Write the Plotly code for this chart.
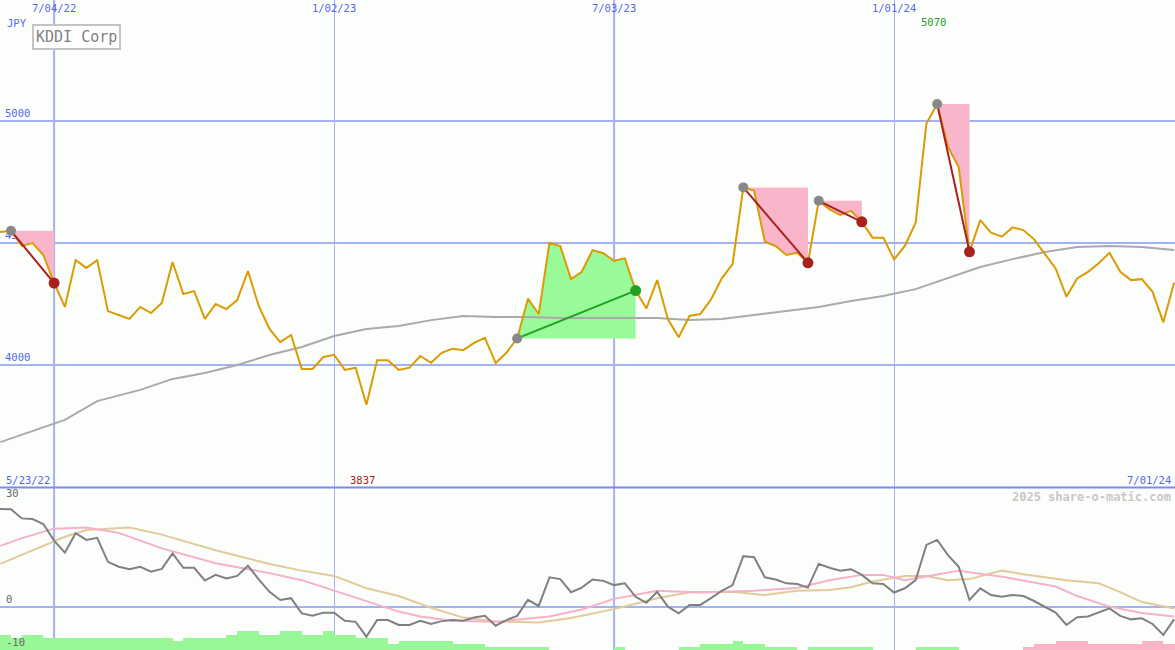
import pandas as pd
import plotly.graph_objects as go

# ---------------- data ----------------
week_dates = pd.date_range("2022-05-23", periods=111, freq="7D")

price = [
    4545,
    4545, 4550, 4488, 4500, 4451, 4336, 4238, 4430, 4398, 4430,
    4221, 4205, 4189, 4238, 4213, 4254, 4422, 4291, 4303, 4189,
    4250, 4229, 4266, 4385, 4242, 4148, 4094, 4123, 3984, 3984,
    4033, 4042, 3980, 3989, 3837, 4020, 4020, 3980, 3989, 4037,
    4009, 4050, 4067, 4061, 4091, 4111, 4008, 4050, 4109, 4272,
    4209, 4501, 4488, 4352, 4382, 4471, 4458, 4427, 4437, 4305,
    4232, 4348, 4187, 4114, 4201, 4209, 4269, 4355, 4414, 4728,
    4714, 4505, 4488, 4451, 4460, 4419, 4673, 4638, 4615, 4632,
    4587, 4522, 4522, 4433, 4488, 4583, 4990, 5070, 4895, 4810,
    4464, 4594, 4542, 4526, 4564, 4553, 4515, 4455, 4396, 4280,
    4355, 4382, 4417, 4460, 4382, 4348, 4352, 4300, 4175, 4337,
]

osc_gray = [
    27.8,
    27.8, 27.7, 25.1, 24.9, 23.5, 18.8, 15.4, 20.9, 19.0, 19.6,
    12.8, 11.4, 10.7, 11.4, 10.0, 10.8, 15.2, 11.1, 11.1, 7.5,
    9.1, 8.1, 8.8, 11.7, 7.8, 4.3, 2.0, 2.5, -1.8, -2.5,
    -1.6, -1.6, -3.9, -4.2, -8.4, -3.7, -3.7, -5.1, -5.1, -3.9,
    -4.8, -4.0, -3.7, -3.9, -3.0, -2.5, -5.3, -3.7, -2.5, 2.0,
    0.3, 8.4, 7.9, 4.2, 5.5, 7.8, 7.4, 6.2, 6.7, 2.9,
    1.2, 4.3, 0.1, -1.8, 0.6, 0.6, 2.5, 4.6, 6.2, 14.4,
    14.1, 8.4, 7.8, 6.7, 6.5, 5.5, 12.2, 11.1, 10.3, 10.7,
    9.1, 6.7, 6.5, 4.1, 5.3, 7.6, 17.6, 19.0, 14.7, 11.4,
    2.0, 5.3, 3.4, 2.9, 3.4, 3.1, 1.7, 0.1, -1.6, -5.1,
    -2.9, -2.7, -1.6, -0.4, -2.5, -3.5, -3.2, -4.8, -7.9, -3.5,
]

# histogram level per week (positive = green, negative = pink)
hist_level = [
    5,
    5, 4, 5, 5, 4, 4, 4, 4, 4, 4,
    4, 4, 4, 4, 4, 4, 3, 4, 4, 4,
    4, 5, 6, 6, 5, 5, 6, 6, 5, 5,
    6, 5, 5, 4, 4, 4, 2, 3, 3, 3,
    3, 3, 2, 2, 2, 1, 1, 1, 1, 1,
    1, 0, 0, 0, 0, 0, 0, 1, 0, 0,
    0, 0, 0, 1, 1, 2, 2, 2, 3, 2,
    2, 1, 1, 1, 0, 1, 1, 1, 1, 1,
    1, 0, 0, 0, 0, 1, 1, 1, 1, 0,
    0, 0, 0, 0, 0, -1, -2, -2, -3, -3,
    -3, -2, -2, -2, -2, -2, -3, -3, -2, -2,
]

# moving average (read at selected weeks; index into week_dates)
ma_week = [1, 7, 10, 14, 17, 20, 23, 26, 29, 32, 35, 38, 41, 44, 47, 50, 53, 56,
           59, 62, 65, 68, 71, 74, 77, 80, 83, 86, 89, 92, 95, 98, 101, 104, 107, 110]
ma_value = [3684, 3775, 3852, 3898, 3943, 3967, 4000, 4041, 4074, 4119, 4148, 4160,
            4184, 4201, 4197, 4197, 4193, 4193, 4193, 4193, 4184, 4189, 4205, 4221,
            4238, 4262, 4283, 4311, 4357, 4402, 4434, 4463, 4484, 4488, 4484, 4471]

pink_week = [1, 3, 6, 9, 12, 16, 21, 26, 29, 32, 35, 38, 40, 43, 47, 52, 55, 58, 62,
             66, 71, 75, 78, 81, 83, 85, 88, 90, 94, 99, 101, 104, 107, 110]
pink_value = [17.3, 19.5, 22.2, 22.5, 21.0, 16.6, 12.4, 9.6, 7.6, 4.6, 1.8, -1.3, -2.7,
              -3.9, -4.2, -2.7, -0.7, 2.3, 4.6, 4.1, 4.6, 5.4, 7.6, 9.1, 9.1, 7.6, 9.2,
              10.3, 8.6, 5.8, 3.1, 0.1, -1.7, -2.7]

tan_week = [1, 4, 7, 9, 13, 16, 21, 26, 29, 32, 35, 38, 41, 44, 47, 51, 54, 58, 62, 65,
            69, 72, 75, 78, 80, 82, 85, 87, 89, 91, 94, 96, 100, 103, 105, 107, 110]
tan_value = [12.2, 16.1, 19.9, 21.8, 22.5, 20.5, 16.1, 12.2, 10.3, 8.8, 5.3, 3.1, -0.2,
             -3.0, -4.1, -4.4, -3.1, -0.6, 2.5, 4.2, 4.3, 3.4, 4.6, 4.8, 5.6, 7.2, 8.8,
             8.8, 7.6, 7.9, 10.3, 9.3, 7.6, 6.7, 4.2, 1.4, -0.4]

sig_start = ["2022-06-06", "2023-05-01", "2023-09-25", "2023-11-13", "2024-01-29"]
sig_end = ["2022-07-04", "2023-07-17", "2023-11-06", "2023-12-11", "2024-02-19"]

x_tick_dates = ["2022-07-04", "2023-01-02", "2023-07-03", "2024-01-01"]
x_tick_text = ["7/04/22", "1/02/23", "7/03/23", "1/01/24"]
x_thick_dates = ["2022-07-04", "2023-07-03"]
y_ticks = [4000, 4500, 5000]

# ---------------- style ----------------
BG = "#fcfefb"
GRID = "#a4b2f0"
BLUE_TXT = "#5566ee"
FONT = "DejaVu Sans Mono"
PRICE_C = "#dc9a04"
MA_C = "#aaaaaa"
PINK_FILL = "#f9b6ca"
GREEN_FILL = "#98fa98"
RED_C = "#a82020"
GREEN_C = "#22a022"
GRAY_DOT = "#888888"

fig = go.Figure()

# histogram bars (bottom panel)
fig.add_trace(go.Bar(
    x=week_dates, y=[abs(v) for v in hist_level],
    marker=dict(color=["#98f898" if v > 0 else "#f9b4c8" for v in hist_level],
                line=dict(width=0)),
    width=7 * 86400000, offset=0, xaxis="x", yaxis="y2", hoverinfo="skip"))

# oscillator lines
fig.add_trace(go.Scatter(x=week_dates[tan_week], y=tan_value, mode="lines",
                         line=dict(color="#e2ca9a", width=2), xaxis="x", yaxis="y3"))
fig.add_trace(go.Scatter(x=week_dates[pink_week], y=pink_value, mode="lines",
                         line=dict(color="#f8b0c8", width=2), xaxis="x", yaxis="y3"))
fig.add_trace(go.Scatter(x=week_dates, y=osc_gray, mode="lines",
                         line=dict(color="#808080", width=2), xaxis="x", yaxis="y3"))

# signal shaded areas
s = pd.Series(price, index=week_dates)
for a, b in zip(sig_start, sig_end):
    seg = s[a:b]
    base = seg.iloc[0]
    up = seg.iloc[-1] > base
    xs = list(seg.index) + [seg.index[-1], seg.index[0]]
    ys = list(seg.values) + [base, base]
    fig.add_trace(go.Scatter(x=xs, y=ys, mode="lines", fill="toself",
                             fillcolor=GREEN_FILL if up else PINK_FILL,
                             line=dict(width=0), xaxis="x", yaxis="y"))

# moving average + price
fig.add_trace(go.Scatter(x=week_dates[ma_week], y=ma_value, mode="lines",
                         line=dict(color=MA_C, width=2), xaxis="x", yaxis="y"))
fig.add_trace(go.Scatter(x=week_dates, y=price, mode="lines",
                         line=dict(color=PRICE_C, width=2), xaxis="x", yaxis="y"))

# signal connectors and dots
for a, b in zip(sig_start, sig_end):
    seg = s[a:b]
    up = seg.iloc[-1] > seg.iloc[0]
    c = GREEN_C if up else RED_C
    fig.add_trace(go.Scatter(x=[seg.index[0], seg.index[-1]], y=[seg.iloc[0], seg.iloc[-1]],
                             mode="lines", line=dict(color=c, width=2), xaxis="x", yaxis="y"))
    fig.add_trace(go.Scatter(x=[seg.index[0]], y=[seg.iloc[0]], mode="markers",
                             marker=dict(color=GRAY_DOT, size=10), xaxis="x", yaxis="y"))
    fig.add_trace(go.Scatter(x=[seg.index[-1]], y=[seg.iloc[-1]], mode="markers",
                             marker=dict(color=c, size=11), xaxis="x", yaxis="y"))

tickfont = dict(family=FONT, size=10.5, color=BLUE_TXT)

fig.update_layout(
    width=1175, height=650,
    margin=dict(l=0, r=0, t=0, b=0),
    paper_bgcolor=BG, plot_bgcolor=BG,
    showlegend=False, bargap=0,
    xaxis=dict(type="date", range=["2022-05-29 20:00", "2024-07-01 14:00"],
               tickmode="array", tickvals=x_tick_dates, ticktext=x_tick_text,
               side="top", ticklabelposition="inside", ticks="", ticklabelstandoff=2,
               showgrid=True, gridcolor=GRID, gridwidth=1,
               zeroline=False, showline=False, tickfont=tickfont, anchor="y"),
    yaxis=dict(domain=[0.25, 1], range=[3498, 5496], tickmode="array", tickvals=y_ticks,
               ticklabelposition="inside top", ticks="", ticklabelstandoff=2,
               showgrid=True, gridcolor=GRID,
               gridwidth=2, zeroline=False, showline=False, layer="below traces",
               tickfont=tickfont, anchor="x"),
    yaxis2=dict(domain=[0, 0.25], range=[0, 50.8], showgrid=False, zeroline=False,
                showticklabels=False, ticks="", anchor="x"),
    yaxis3=dict(domain=[0, 0.25], range=[-12.18, 33.85], overlaying="y2", anchor="x",
                showgrid=False, zeroline=True, zerolinecolor=GRID, zerolinewidth=2,
                showticklabels=False, ticks=""),
)

# thicker mid-year grid lines
for d in x_thick_dates:
    fig.add_shape(type="line", xref="x", yref="paper", x0=d, x1=d, y0=0, y1=1,
                  line=dict(color=GRID, width=2), layer="below")
# panel separator
fig.add_shape(type="line", xref="paper", yref="paper", x0=0, x1=1, y0=0.25, y1=0.25,
              line=dict(color="#7a8af0", width=2), layer="above")

ann = []
ann.append(dict(text="JPY", x=5 / 1175, y=1 - 15 / 650, xref="paper", yref="paper",
                xanchor="left", yanchor="top", showarrow=False,
                font=dict(family=FONT, size=10.5, color=BLUE_TXT)))
ann.append(dict(text="KDDI Corp", x=32 / 1175, y=1 - 24 / 650, xref="paper", yref="paper",
                xanchor="left", yanchor="top", showarrow=False, bgcolor="#ffffff",
                bordercolor="#c4c4c4", borderwidth=2, borderpad=2,
                font=dict(family=FONT, size=15, color="#808080")))
ann.append(dict(text=str(max(price)), x=s.idxmax(), y=1 - 14 / 650, xref="x", yref="paper",
                xanchor="center", xshift=-4, yanchor="top", showarrow=False,
                font=dict(family=FONT, size=10.5, color="#22992a")))
ann.append(dict(text=week_dates[0].strftime("%-m/%d/%y"), x=4 / 1175, y=0.25,
                xref="paper", yref="paper", xanchor="left", yanchor="bottom", showarrow=False,
                font=dict(family=FONT, size=10.5, color=BLUE_TXT)))
ann.append(dict(text=str(min(price)), x=348 / 1175, y=0.25,
                xref="paper", yref="paper", xanchor="left", yanchor="bottom", showarrow=False,
                font=dict(family=FONT, size=10.5, color="#a82020")))
ann.append(dict(text=week_dates[-1].strftime("%-m/%d/%y"), x=1 - 2 / 1175, y=0.25,
                xref="paper", yref="paper", xanchor="right", yanchor="bottom", showarrow=False,
                font=dict(family=FONT, size=10.5, color=BLUE_TXT)))
ann.append(dict(text="<b>2025 share-o-matic.com</b>", x=1 - 2 / 1175, y=0.25 - 1 / 650,
                xref="paper", yref="paper", xanchor="right", yanchor="top", showarrow=False,
                font=dict(family=FONT, size=12, color="#c8c8c8")))
for v, anc in [(30, "bottom"), (0, "bottom"), (-10, "middle")]:
    ann.append(dict(text=str(v), x=4 / 1175, y=v, xref="paper", yref="y3",
                    xanchor="left", yanchor=anc, showarrow=False,
                    font=dict(family=FONT, size=10.5, color="#666666")))
fig.update_layout(annotations=ann)

fig.write_html("out.html", config={"displayModeBar": False},
               post_script="document.body.style.margin='0';")
